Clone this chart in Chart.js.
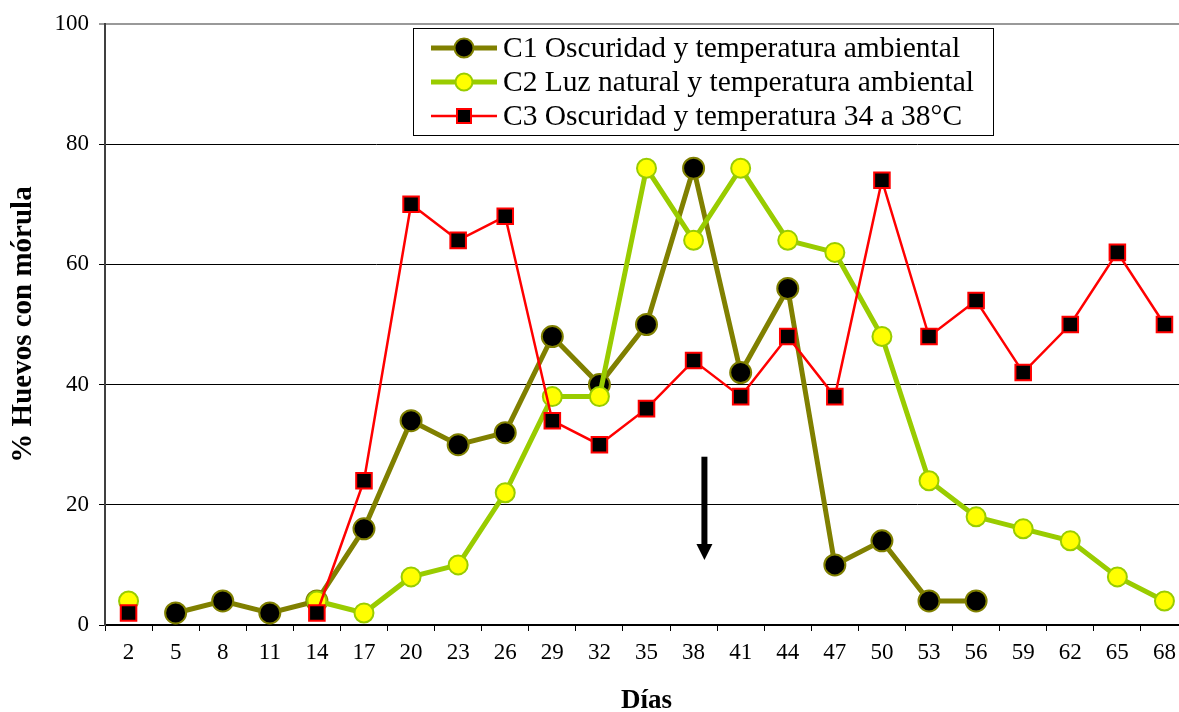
<!DOCTYPE html>
<html>
<head>
<meta charset="utf-8">
<script src="https://cdn.jsdelivr.net/npm/chart.js@4/dist/chart.umd.min.js"></script>
<style>
  html, body { margin: 0; padding: 0; background: #fff; overflow: hidden; }
  #wrap { position: absolute; left: 0; top: 0; width: 1179px; height: 712px; overflow: hidden; }
  #c { position: absolute; left: 0; top: 0; }
</style>
</head>
<body>
<div id="wrap"><canvas id="c" width="1190" height="712" style="width:1190px;height:712px"></canvas></div>
<script>
// Days of incubation (x categories)
const dias = ['2','5','8','11','14','17','20','23','26','29','32','35','38','41','44','47','50','53','56','59','62','65','68'];

// % eggs reaching morula stage for each condition
const c1 = [null, 2, 4, 2, 4, 16, 34, 30, 32, 48, 40, 50, 76, 42, 56, 10, 14, 4, 4, null, null, null, null];
const c2 = [4, null, null, null, 4, 2, 8, 10, 22, 38, 38, 76, 64, 76, 64, 62, 48, 24, 18, 16, 14, 8, 4];
const c3 = [2, null, null, null, 2, 24, 70, 64, 68, 34, 30, 36, 44, 38, 48, 38, 74, 48, 54, 42, 50, 62, 50];

const etiquetas = [
  'C1 Oscuridad y temperatura ambiental',
  'C2 Luz natural y temperatura ambiental',
  'C3 Oscuridad y temperatura 34 a 38°C'
];
const yTicks = [0, 20, 40, 60, 80, 100];

// Arrow marking the change of treatment (category index + fraction, value range)
const flecha = { idx: 12.23, from: 28, to: 10.8 };

const SERIF = '"Liberation Serif", "Times New Roman", serif';

const styles = [
  { line: '#808000', fill: '#000000', border: '#808000', shape: 'circle', r: 10.5, lw: 5, bw: 2 },
  { line: '#99CC00', fill: '#FFFF00', border: '#99CC00', shape: 'circle', r: 9.5, lw: 5, bw: 2 },
  { line: '#FF0000', fill: '#000000', border: '#FF0000', shape: 'rect', r: 11, lw: 2.5, bw: 2 }
];

const legendPlugin = {
  id: 'boxLegend',
  afterDatasetsDraw(chart) {
    const ctx = chart.ctx;
    const x0 = 413, y0 = 28, w = 580, h = 107;
    ctx.save();
    ctx.fillStyle = '#fff';
    ctx.fillRect(x0, y0, w, h);
    ctx.strokeStyle = '#000';
    ctx.lineWidth = 1;
    ctx.strokeRect(x0 + 0.5, y0 + 0.5, w, h);
    ctx.font = '29.5px ' + SERIF;
    ctx.textBaseline = 'middle';
    ctx.fillStyle = '#000';
    const rows = [48, 82, 116];
    etiquetas.forEach((t, i) => {
      const s = styles[i];
      const y = rows[i];
      ctx.strokeStyle = s.line;
      ctx.lineWidth = s.lw;
      ctx.beginPath();
      ctx.moveTo(431, y);
      ctx.lineTo(497, y);
      ctx.stroke();
      ctx.fillStyle = s.fill;
      ctx.strokeStyle = s.border;
      ctx.lineWidth = s.bw;
      ctx.beginPath();
      if (s.shape === 'circle') {
        ctx.arc(464, y, s.r - 1, 0, Math.PI * 2);
      } else {
        ctx.rect(464 - 7, y - 7, 14, 14);
      }
      ctx.fill();
      ctx.stroke();
      ctx.fillStyle = '#000';
      ctx.fillText(t, 503, y + 1);
    });
    ctx.restore();
  }
};

const arrowPlugin = {
  id: 'arrow',
  afterDatasetsDraw(chart) {
    const xs = chart.scales.x, ys = chart.scales.y;
    const band = xs.getPixelForValue(1) - xs.getPixelForValue(0);
    const x = xs.getPixelForValue(0) + flecha.idx * band;
    const yTop = ys.getPixelForValue(flecha.from);
    const yTip = ys.getPixelForValue(flecha.to);
    const ctx = chart.ctx;
    ctx.save();
    ctx.fillStyle = '#000';
    ctx.fillRect(x - 3, yTop, 6, (yTip - yTop) - 14);
    ctx.beginPath();
    ctx.moveTo(x - 8, yTip - 16);
    ctx.lineTo(x + 8, yTip - 16);
    ctx.lineTo(x, yTip);
    ctx.closePath();
    ctx.fill();
    ctx.restore();
  }
};

function ds(label, data, s, order) {
  return {
    label, data, order,
    borderColor: s.line,
    borderWidth: s.lw,
    pointStyle: s.shape,
    pointRadius: s.r,
    pointHoverRadius: s.r,
    pointBackgroundColor: s.fill,
    pointBorderColor: s.border,
    pointBorderWidth: s.bw,
    spanGaps: false,
    tension: 0
  };
}

new Chart(document.getElementById('c'), {
  type: 'line',
  data: {
    labels: dias,
    datasets: [
      ds(etiquetas[0], c1, styles[0], 2),
      ds(etiquetas[1], c2, styles[1], 1),
      ds(etiquetas[2], c3, styles[2], 0)
    ]
  },
  options: {
    responsive: false,
    animation: false,
    // the canvas is wider than the visible page, so the last band is cut off
    layout: { autoPadding: false, padding: { top: 24, right: 2, left: 0, bottom: 0 } },
    plugins: { legend: { display: false }, tooltip: { enabled: false } },
    scales: {
      x: {
        offset: true,
        grid: { offset: true, drawOnChartArea: false, drawTicks: true, tickLength: 6, color: '#000', lineWidth: 1 },
        border: { color: '#000', width: 2 },
        ticks: { color: '#000', font: { family: SERIF, size: 23 }, padding: 8, maxRotation: 0, autoSkip: false },
        title: { display: true, text: 'Días', color: '#000', font: { family: SERIF, size: 27, weight: 'bold', lineHeight: 0.8 }, padding: { top: 0, bottom: 0 } },
        afterFit(scale) { scale.height = 87; }
      },
      y: {
        min: 0, max: 100,
        afterBuildTicks(scale) { scale.ticks = yTicks.map(v => ({ value: v })); },
        grid: {
          color: ctx => ctx.tick && ctx.tick.value === 100 ? '#999' : '#000',
          lineWidth: ctx => ctx.tick && ctx.tick.value === 100 ? 2 : 1,
          tickLength: 6
        },
        border: { color: '#404040', width: 2 },
        ticks: { color: '#000', font: { family: SERIF, size: 23 }, padding: 10 },
        title: { display: true, text: '% Huevos con mórula', color: '#000', font: { family: SERIF, size: 29, weight: 'bold' }, padding: { top: 6, bottom: 0 } },
        afterFit(scale) { scale.width = 105; }
      }
    }
  },
  plugins: [legendPlugin, arrowPlugin]
});
</script>
</body>
</html>
